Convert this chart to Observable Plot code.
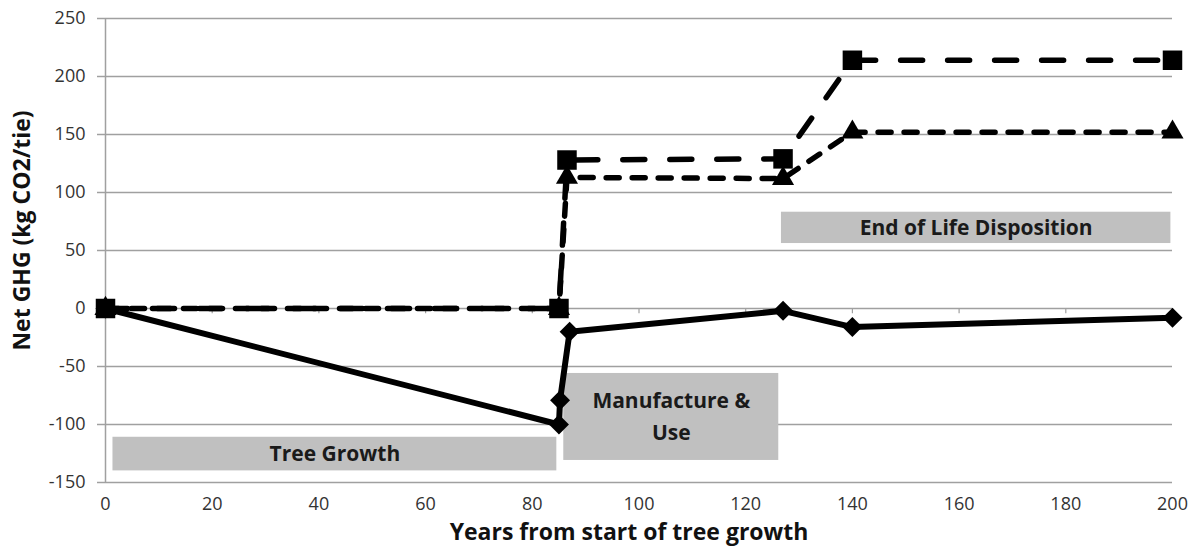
<!DOCTYPE html>
<html><head><meta charset="utf-8">
<script src="https://cdn.jsdelivr.net/npm/d3@7"></script>
<script src="https://cdn.jsdelivr.net/npm/@observablehq/plot@0.6"></script>
<style>
body{margin:0;background:#fff;}
</style></head><body><div id="chart"></div>
<script>
// Data
const diamondX = [0, 85, 85.2, 87, 127, 140, 200];
const diamondY = [0, -100, -79, -20, -2, -16, -8];
const squareX = [0, 85, 86.5, 127, 140, 200];
const squareY = [0, 0, 128, 129, 214, 214];
const triangleX = [0, 85, 86.5, 127, 140, 200];
const triangleY = [0, 0, 113, 112, 152, 152];

const phaseLabels = ["Tree Growth", "Manufacture &\nUse", "End of Life Disposition"];
const phaseX1 = [1.4, 85.9, 126.7];
const phaseX2 = [84.6, 126.2, 199.7];
const phaseY1 = [-111, -56, 56];
const phaseY2 = [-140, -131, 83];

const xTicks = [0, 20, 40, 60, 80, 100, 120, 140, 160, 180, 200];
const yTicks = [-150, -100, -50, 0, 50, 100, 150, 200, 250];
const xTitle = "Years from start of tree growth";
const yTitle = "Net GHG (kg CO2/tie)";

const toPts = (xs, ys) => xs.map((x, i) => ({x, y: ys[i]}));
const diamonds = toPts(diamondX, diamondY);
const squares = toPts(squareX, squareY);
const triangles = toPts(triangleX, triangleY);
const phases = phaseLabels.map((label, i) => ({label, x1: phaseX1[i], x2: phaseX2[i], y1: phaseY1[i], y2: phaseY2[i]}));

const grid = "#a0a0a0";
const fmt = d => String(d);
const chart = Plot.plot({
  width: 1196, height: 560,
  marginLeft: 105, marginRight: 24, marginTop: 18, marginBottom: 78,
  style: {fontFamily: '"Open Sans", sans-serif', fontSize: "18px", color: "#222", background: "#fff"},
  x: {domain: [0, 200]},
  y: {domain: [-150, 250]},
  marks: [
    Plot.ruleY(yTicks, {stroke: grid, strokeWidth: 1.5}),
    Plot.ruleX([0], {stroke: grid, strokeWidth: 1.5}),
    Plot.ruleX(xTicks.filter(d => d > 0), {x: d => d, y1: 0, y2: -4.5, stroke: grid, strokeWidth: 1.2}),
    Plot.axisY({ticks: yTicks, tickFormat: fmt, tickSize: 8, tickPadding: 12, stroke: grid, strokeWidth: 1.5, fill: "#333",
      fontSize: 18, label: null}),
    Plot.axisX({ticks: xTicks, tickFormat: fmt, tickSize: 0, tickPadding: 15, fill: "#333",
      fontSize: 18, label: null}),
    Plot.text([yTitle], {frameAnchor: "left", textAnchor: "middle", text: d => d, rotate: -90, dx: -83, dy: -20,
      fontSize: 23, fontWeight: "bold", fill: "#111"}),
    Plot.text([xTitle], {frameAnchor: "bottom", textAnchor: "middle", text: d => d, dx: -10, dy: 57,
      fontSize: 23, fontWeight: "bold", fill: "#111"}),
    Plot.rect(phases, {x1: "x1", x2: "x2", y1: "y1", y2: "y2", fill: "#c0c0c0"}),
    Plot.text(phases, {x: d => (d.x1 + d.x2) / 2, y: d => (d.y1 + d.y2) / 2, text: "label", dy: -3,
      fontWeight: "bold", fontSize: 21, fill: "#1a1a1a", lineHeight: 1.5}),
    Plot.line(diamonds, {x: "x", y: "y", stroke: "#000", strokeWidth: 6}),
    Plot.dot(diamonds, {x: "x", y: "y", symbol: "diamond2", r: 9, fill: "#000", stroke: "none"}),
    Plot.line(triangles, {x: "x", y: "y", stroke: "#000", strokeWidth: 5.5, strokeDasharray: "13,13", strokeLinecap: "round"}),
    Plot.dot(triangles, {x: "x", y: "y", symbol: "triangle", r: 8.2, fill: "#000", stroke: "none"}),
    Plot.line(squares, {x: "x", y: "y", stroke: "#000", strokeWidth: 5.5, strokeDasharray: "22,25", strokeLinecap: "round"}),
    Plot.dot(squares, {x: "x", y: "y", symbol: "square", r: 11, fill: "#000", stroke: "none"})
  ]
});
document.getElementById("chart").appendChild(chart);
</script></body></html>
